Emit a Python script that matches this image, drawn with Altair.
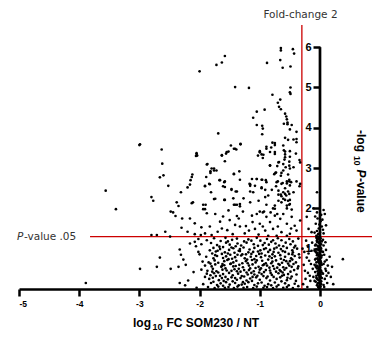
import altair as alt
import pandas as pd

# ---- values ----------------------------------------------------------------
FC_CUT = -0.301   # log10(1/2): fold-change 2
P_CUT = 1.301     # -log10(0.05)

x_ticks = [-5, -4, -3, -2, -1, 0, 1]
y_ticks = [1, 2, 3, 4, 5, 6]

upper = [
    (-2.00, 5.40), (-1.72, 5.56), (-1.63, 5.62), (-1.58, 5.78), (-1.41, 5.01), (-1.18, 4.99),
    (-0.88, 5.61), (-0.65, 5.98), (-0.65, 5.92), (-0.45, 5.95), (-0.43, 5.84), (-0.66, 5.68),
    (-0.62, 5.49), (-0.49, 5.52), (-0.49, 5.00), (-0.50, 4.88), (-0.49, 4.84), (-0.79, 4.82),
    (-0.66, 4.70), (-0.70, 4.62), (-0.68, 4.52), (-0.65, 4.46), (-0.92, 4.45), (-1.05, 4.40),
    (-0.58, 4.35), (-0.56, 4.28), (-0.55, 4.21), (-1.11, 4.25), (-1.05, 4.07), (-0.95, 3.98),
    (-0.54, 4.09), (-0.47, 4.07), (-0.50, 3.96), (-0.96, 4.05), (-0.96, 3.84), (-0.60, 4.10),
    (-0.54, 4.13), (-0.39, 3.90), (-1.69, 3.86), (-1.48, 3.56), (-1.32, 3.60), (-1.41, 3.48),
    (-1.55, 3.40), (-1.63, 3.32), (-1.58, 3.17), (-2.05, 3.35), (-2.06, 3.30), (-0.79, 3.63),
    (-0.75, 3.57), (-0.81, 3.51), (-0.58, 3.75), (-0.53, 3.70), (-0.44, 3.71), (-0.39, 3.64),
    (-0.89, 3.53), (-1.00, 3.42), (-0.97, 3.34), (-0.83, 3.40), (-0.75, 3.40), (-0.60, 3.44),
    (-0.50, 3.42), (-0.40, 3.36), (-0.58, 3.34), (-0.59, 3.21), (-0.50, 3.28), (-0.51, 3.16),
    (-0.34, 3.20), (-0.83, 3.07), (-0.68, 3.15), (-0.71, 3.05), (-0.64, 2.88), (-0.74, 2.88),
    (-0.57, 3.02), (-0.50, 2.99), (-0.53, 2.84), (-1.82, 2.92), (-1.80, 2.99), (-1.76, 2.94),
    (-1.88, 3.09), (-1.43, 2.85), (-1.34, 2.92), (-2.13, 2.78), (-1.91, 2.55), (-1.83, 2.60),
    (-1.66, 2.70), (-1.59, 2.65), (-1.61, 2.55), (-1.47, 2.46), (-1.38, 2.42), (-1.16, 2.60),
    (-1.05, 2.73), (-0.96, 2.71), (-0.90, 2.70), (-0.97, 2.50), (-0.80, 2.46), (-0.73, 2.55),
    (-0.70, 2.67), (-0.62, 2.63), (-0.55, 2.67), (-0.51, 2.71), (-0.50, 2.57), (-0.58, 2.50),
    (-0.69, 2.34), (-0.64, 2.30), (-0.58, 2.36), (-0.53, 2.42), (-0.39, 2.67), (-0.34, 2.55),
    (-0.58, 2.21), (-0.50, 2.21), (-0.51, 2.09), (-0.55, 2.00), (-1.74, 2.24), (-1.94, 2.09),
    (-1.91, 1.98), (-1.59, 2.21), (-1.44, 2.25), (-1.41, 2.09), (-1.33, 2.05), (-1.16, 2.15),
    (-1.02, 2.19), (-0.91, 2.28), (-0.89, 2.09), (-1.00, 1.92), (-0.93, 1.92), (-0.78, 2.00),
    (-0.71, 1.86), (-2.13, 2.13), (-0.75, 3.62), (-0.89, 3.48), (-1.00, 3.39), (-1.03, 3.31),
    (-0.94, 3.33), (-0.95, 3.25), (-0.75, 3.35), (-0.39, 3.72), (-0.61, 3.56), (-0.58, 3.41),
    (-0.58, 3.27), (-0.33, 3.14), (-0.69, 3.14), (-0.61, 3.10), (-0.83, 3.06), (-0.51, 3.06),
    (-0.44, 3.02), (-0.76, 2.85), (-0.73, 2.89), (-0.61, 2.94), (-0.65, 2.81), (-1.13, 2.73),
    (-1.05, 2.73), (-0.97, 2.71), (-0.89, 2.65), (-1.08, 2.56), (-0.97, 2.52), (-0.91, 2.46),
    (-0.86, 2.32), (-0.72, 2.65), (-0.64, 2.61), (-0.55, 2.62), (-0.51, 2.67), (-0.48, 2.65),
    (-0.69, 2.44), (-0.61, 2.40), (-0.65, 2.34), (-0.56, 2.32), (-0.51, 2.36), (-0.44, 2.40),
    (-0.33, 2.61), (-0.61, 2.24), (-0.69, 2.19), (-0.53, 2.19), (-0.50, 2.11), (-0.55, 2.07),
    (-0.64, 2.15), (-0.75, 2.07), (-0.75, 1.99), (-0.47, 1.97), (-1.16, 2.56), (-1.11, 2.40),
]

left = [
    (-3.00, 3.57), (-2.99, 3.59), (-2.63, 3.46), (-2.62, 3.11), (-2.66, 2.77), (-2.60, 2.82),
    (-2.52, 2.56), (-2.80, 2.28), (-2.77, 2.19), (-2.38, 2.15), (-2.35, 2.06), (-2.31, 2.40),
    (-2.20, 2.52), (-2.16, 2.59), (-2.15, 2.70), (-2.12, 2.84), (-2.11, 2.15), (-1.94, 1.98),
    (-1.90, 2.09), (-1.91, 2.56), (-1.84, 2.61), (-1.81, 2.40), (-1.89, 2.78), (-1.82, 2.88),
    (-1.76, 2.99), (-1.72, 2.94), (-1.87, 3.10), (-2.05, 3.37), (-2.04, 3.31), (-1.63, 3.31),
    (-1.56, 3.36), (-1.52, 3.41), (-1.43, 3.48), (-1.39, 3.46), (-1.32, 3.59), (-1.67, 2.70),
    (-1.58, 2.67), (-1.58, 2.53), (-1.47, 2.48), (-1.40, 2.42), (-1.43, 2.86), (-1.33, 2.71),
    (-1.17, 2.61), (-1.16, 2.42), (-1.76, 2.23), (-1.58, 2.21), (-1.43, 2.09), (-1.38, 2.09),
    (-1.33, 2.11), (-1.27, 2.25), (-3.56, 2.44), (-3.39, 1.98), (-3.89, 0.15), (-2.99, 0.50),
    (-2.66, 0.78), (-2.71, 0.55), (-2.48, 0.50), (-2.35, 0.55), (-2.27, 0.73), (-2.23, 0.60),
]

mid = [
    (-2.48, 1.92), (-2.44, 1.90), (-2.40, 1.81), (-2.29, 1.75), (-2.16, 1.75), (-2.08, 1.63),
    (-1.97, 1.53), (-1.83, 1.55), (-1.88, 1.88), (-1.74, 1.86), (-1.61, 1.80), (-1.66, 1.67),
    (-1.50, 1.71), (-1.38, 1.81), (-1.35, 1.75), (-1.41, 1.59), (-1.33, 1.55), (-1.23, 1.56),
    (-1.54, 1.46), (-1.63, 1.50), (-2.80, 1.34), (-2.71, 1.34), (-2.57, 1.42), (-2.49, 1.30),
    (-2.08, 1.36), (-1.98, 1.34), (-1.91, 1.38), (-1.80, 1.34), (-1.13, 1.82), (-1.05, 1.86),
    (-0.95, 1.90), (-0.89, 1.79), (-0.83, 1.66), (-0.75, 1.82), (-0.66, 1.74), (-0.61, 1.86),
    (-0.55, 1.62), (-0.47, 1.79), (-0.42, 1.57), (-0.39, 1.45), (-1.00, 1.62), (-1.08, 1.49),
    (-0.91, 1.45), (-0.78, 1.49), (-0.64, 1.41), (-0.50, 1.37), (-0.72, 1.32), (-0.86, 1.32),
    (-1.02, 1.35), (-0.33, 1.70), (-0.55, 1.32), (-0.22, 1.79), (-0.19, 1.49), (-0.14, 1.41),
    (-1.25, 1.38), (-1.12, 1.66), (-1.45, 1.36), (-1.70, 1.42), (-1.18, 1.45), (-0.95, 1.55),
    (-0.70, 1.55), (-0.48, 1.50), (-1.28, 1.92), (-1.52, 1.95), (-0.82, 1.90), (-2.20, 1.42),
    (-2.30, 1.52),
]

cloud = [
    (-2.02, 1.24), (-1.88, 1.21), (-1.76, 1.26), (-1.65, 1.19), (-1.57, 1.27), (-1.46, 1.22),
    (-1.38, 1.25), (-1.26, 1.18), (-1.19, 1.23), (-1.05, 1.27), (-0.99, 1.20), (-0.88, 1.24),
    (-0.81, 1.17), (-0.70, 1.26), (-0.64, 1.21), (-0.51, 1.24), (-0.45, 1.18), (-0.36, 1.25),
    (-2.16, 1.13), (-2.08, 1.17), (-2.06, 1.06), (-1.97, 1.11), (-1.81, 1.14), (-1.71, 1.09),
    (-1.56, 1.15), (-1.50, 1.10), (-1.37, 1.13), (-1.31, 1.08), (-1.22, 1.15), (-1.10, 1.11),
    (-1.03, 1.07), (-0.92, 1.14), (-0.85, 1.10), (-0.74, 1.13), (-0.68, 1.08), (-0.57, 1.15),
    (-0.49, 1.11), (-0.41, 1.07), (-2.33, 0.98), (-1.83, 0.96), (-1.77, 1.02), (-1.66, 0.99),
    (-1.61, 1.04), (-1.51, 0.97), (-1.44, 1.01), (-1.35, 0.95), (-1.27, 1.03), (-1.17, 0.98),
    (-1.09, 1.02), (-0.99, 0.96), (-0.90, 1.01), (-0.83, 0.97), (-0.72, 1.03), (-0.65, 0.99),
    (-0.55, 1.02), (-0.46, 0.96), (-0.38, 1.00), (-2.31, 0.85), (-2.02, 0.92), (-2.00, 0.86),
    (-1.79, 0.88), (-1.73, 0.93), (-1.63, 0.87), (-1.58, 0.91), (-1.49, 0.85), (-1.42, 0.90),
    (-1.33, 0.94), (-1.29, 0.86), (-1.19, 0.91), (-1.14, 0.87), (-1.03, 0.93), (-0.97, 0.88),
    (-0.86, 0.92), (-0.79, 0.86), (-0.69, 0.90), (-0.62, 0.94), (-0.52, 0.87), (-0.45, 0.91),
    (-0.35, 0.86), (-1.89, 0.80), (-1.77, 0.76), (-1.71, 0.82), (-1.61, 0.77), (-1.56, 0.81),
    (-1.46, 0.75), (-1.41, 0.79), (-1.31, 0.83), (-1.25, 0.76), (-1.15, 0.80), (-1.09, 0.74),
    (-0.98, 0.79), (-0.91, 0.83), (-0.80, 0.77), (-0.75, 0.81), (-0.65, 0.75), (-0.58, 0.80),
    (-0.48, 0.76), (-0.42, 0.82), (-0.34, 0.78), (-1.95, 0.68), (-1.85, 0.66), (-1.75, 0.71),
    (-1.69, 0.65), (-1.59, 0.69), (-1.54, 0.72), (-1.44, 0.66), (-1.39, 0.70), (-1.29, 0.64),
    (-1.23, 0.69), (-1.13, 0.72), (-1.07, 0.66), (-0.96, 0.70), (-0.90, 0.64), (-0.79, 0.68),
    (-0.73, 0.71), (-0.63, 0.65), (-0.56, 0.69), (-0.46, 0.73), (-0.40, 0.66), (-0.69, 0.62),
    (-0.86, 0.73), (-1.91, 0.58), (-1.80, 0.56), (-1.74, 0.61), (-1.64, 0.55), (-1.59, 0.59),
    (-1.49, 0.62), (-1.44, 0.56), (-1.34, 0.60), (-1.28, 0.54), (-1.18, 0.58), (-1.12, 0.61),
    (-1.02, 0.55), (-0.95, 0.59), (-0.84, 0.53), (-0.78, 0.57), (-0.67, 0.60), (-0.61, 0.54),
    (-0.51, 0.58), (-0.44, 0.62), (-0.36, 0.56), (-2.10, 0.42), (-1.97, 0.48), (-1.87, 0.45),
    (-1.78, 0.50), (-1.72, 0.44), (-1.62, 0.48), (-1.57, 0.51), (-1.47, 0.45), (-1.42, 0.49),
    (-1.32, 0.43), (-1.26, 0.47), (-1.16, 0.51), (-1.10, 0.44), (-1.00, 0.48), (-0.93, 0.42),
    (-0.83, 0.46), (-0.76, 0.50), (-0.65, 0.44), (-0.59, 0.48), (-0.49, 0.43), (-0.43, 0.47),
    (-0.37, 0.51), (-1.88, 0.38), (-1.82, 0.34), (-1.76, 0.39), (-1.66, 0.33), (-1.61, 0.37),
    (-1.51, 0.40), (-1.45, 0.34), (-1.36, 0.38), (-1.30, 0.32), (-1.20, 0.36), (-1.14, 0.40),
    (-1.04, 0.33), (-0.97, 0.37), (-0.87, 0.31), (-0.80, 0.35), (-0.69, 0.39), (-0.63, 0.33),
    (-0.53, 0.37), (-0.47, 0.31), (-0.39, 0.36), (-1.91, 0.30), (-1.84, 0.25), (-1.78, 0.28),
    (-1.68, 0.22), (-1.63, 0.27), (-1.53, 0.24), (-1.47, 0.29), (-1.38, 0.23), (-1.32, 0.27),
    (-1.22, 0.21), (-1.16, 0.26), (-1.06, 0.29), (-1.00, 0.23), (-0.89, 0.27), (-0.83, 0.21),
    (-0.72, 0.25), (-0.66, 0.29), (-0.55, 0.22), (-0.49, 0.26), (-0.40, 0.20), (-2.19, 0.21),
    (-2.33, 0.15), (-2.24, 0.09), (-1.94, 0.12), (-1.81, 0.15), (-1.71, 0.10), (-1.65, 0.14),
    (-1.56, 0.17), (-1.50, 0.11), (-1.41, 0.15), (-1.35, 0.09), (-1.25, 0.13), (-1.19, 0.17),
    (-1.09, 0.10), (-1.03, 0.14), (-0.92, 0.08), (-0.86, 0.12), (-0.75, 0.16), (-0.69, 0.10),
    (-0.58, 0.14), (-0.52, 0.09), (-0.42, 0.13), (-0.36, 0.07), (-2.05, 0.03), (-1.86, 0.05),
    (-1.75, 0.02), (-1.69, 0.06), (-1.58, 0.03), (-1.52, 0.05), (-1.43, 0.02), (-1.37, 0.06),
    (-1.27, 0.03), (-1.21, 0.05), (-1.11, 0.02), (-1.05, 0.06), (-0.94, 0.03), (-0.88, 0.05),
    (-0.78, 0.02), (-0.72, 0.06), (-0.61, 0.03), (-0.55, 0.05), (-0.45, 0.02),
    (-1.70, 0.95), (-1.48, 0.63), (-1.23, 0.86), (-1.01, 0.41), (-0.77, 0.92), (-0.54, 0.28),
    (-1.60, 0.20), (-1.35, 0.50), (-1.12, 0.30), (-0.93, 0.61), (-0.67, 0.47), (-0.46, 0.86),
    (-1.79, 0.43), (-1.53, 0.88), (-1.28, 0.17), (-1.06, 0.82), (-0.82, 0.40), (-0.60, 0.72),
]

core = [
    (-1.67, 1.05), (-1.53, 1.18), (-1.40, 1.06), (-1.14, 1.20), (-0.95, 1.09), (-0.78, 1.21),
    (-0.61, 1.06), (-0.43, 1.03), (-1.74, 0.84), (-1.52, 0.74), (-1.37, 0.85), (-1.21, 0.73),
    (-1.01, 0.87), (-0.84, 0.81), (-0.66, 0.84), (-0.50, 0.69), (-1.82, 0.63), (-1.62, 0.62),
    (-1.40, 0.57), (-1.20, 0.64), (-1.05, 0.71), (-0.88, 0.58), (-0.71, 0.53), (-0.53, 0.63),
    (-1.69, 0.41), (-1.55, 0.46), (-1.38, 0.44), (-1.22, 0.41), (-1.07, 0.52), (-0.90, 0.47),
    (-0.73, 0.43), (-0.56, 0.52), (-1.73, 0.32), (-1.57, 0.30), (-1.41, 0.27), (-1.26, 0.31),
    (-1.09, 0.36), (-0.94, 0.32), (-0.77, 0.30), (-0.60, 0.35), (-1.77, 0.18), (-1.61, 0.08),
    (-1.45, 0.19), (-1.30, 0.11), (-1.13, 0.20), (-0.97, 0.16), (-0.81, 0.09), (-0.64, 0.19),
    (-1.47, 1.03), (-1.33, 0.99), (-1.11, 0.92), (-0.93, 0.99), (-0.76, 1.00), (-0.58, 0.92),
    (-1.63, 0.57), (-1.18, 0.47), (-0.98, 0.51), (-0.81, 0.64), (-0.62, 0.41), (-0.47, 0.55),
]

gap = [
    (-0.28, 0.12), (-0.25, 0.45), (-0.22, 0.78), (-0.20, 1.05), (-0.26, 0.92), (-0.17, 0.33),
    (-0.15, 0.62), (-0.24, 0.25), (-0.19, 0.88), (-0.13, 1.15), (-0.27, 0.60), (-0.21, 0.05),
    (-0.16, 0.20), (-0.12, 0.50), (-0.23, 1.20), (-0.18, 0.70), (-0.14, 0.95), (-0.29, 1.00),
    (-0.11, 0.30), (-0.20, 0.40),
]

column = [
    (-0.02, 0.03), (0.01, 0.06), (-0.05, 0.09), (0.02, 0.12), (-0.03, 0.15), (-0.07, 0.18),
    (0.00, 0.21), (-0.04, 0.24), (0.03, 0.27), (-0.01, 0.30), (-0.06, 0.33), (0.01, 0.36),
    (-0.03, 0.39), (-0.08, 0.42), (0.02, 0.45), (-0.02, 0.48), (-0.05, 0.51), (0.00, 0.54),
    (-0.04, 0.57), (0.03, 0.60), (-0.01, 0.63), (-0.06, 0.66), (0.01, 0.69), (-0.03, 0.72),
    (-0.07, 0.75), (0.02, 0.78), (-0.02, 0.81), (-0.05, 0.84), (0.00, 0.87), (-0.04, 0.90),
    (0.03, 0.93), (-0.01, 0.96), (-0.06, 0.99), (0.01, 1.02), (-0.03, 1.05), (-0.08, 1.08),
    (0.02, 1.11), (-0.02, 1.14), (-0.05, 1.17), (0.00, 1.20), (-0.04, 1.23), (0.01, 1.26),
    (-0.01, 1.29), (-0.06, 1.32), (-0.03, 1.36), (0.00, 1.40), (-0.05, 1.44),
    (-0.01, 0.08), (-0.04, 0.13), (0.00, 0.17), (-0.02, 0.22), (-0.05, 0.26), (0.01, 0.31),
    (-0.03, 0.35), (-0.01, 0.40), (-0.04, 0.44), (0.00, 0.49), (-0.02, 0.53), (-0.06, 0.58),
    (0.01, 0.62), (-0.03, 0.67), (-0.01, 0.71), (-0.04, 0.76), (0.00, 0.80), (-0.02, 0.85),
    (-0.05, 0.89), (0.01, 0.94), (-0.03, 0.98), (-0.01, 1.03), (-0.04, 1.07), (0.00, 1.12),
    (-0.02, 1.16), (-0.05, 1.21), (-0.02, 1.25), (-0.04, 1.30),
    (-0.03, 0.05), (0.02, 0.19), (-0.06, 0.28), (0.03, 0.41), (-0.07, 0.55), (0.02, 0.65),
    (-0.08, 0.73), (0.03, 0.83), (-0.07, 0.92), (0.02, 1.00), (-0.07, 1.10), (0.03, 1.18),
    (-0.06, 1.27), (-0.09, 0.60), (-0.09, 0.20), (-0.09, 0.95),
    (0.06, 0.10), (0.08, 0.25), (0.05, 0.38), (0.09, 0.50), (0.06, 0.62), (0.11, 0.72),
    (0.07, 0.85), (0.10, 0.97), (0.06, 1.08), (0.12, 0.15), (0.14, 0.40), (0.08, 0.68),
    (0.13, 0.58), (0.16, 0.80), (0.05, 0.92), (0.09, 1.16), (0.18, 0.30), (0.22, 0.12),
    (0.20, 0.55), (0.38, 0.74), (0.07, 0.05), (0.11, 0.33), (0.05, 1.22), (0.10, 0.45),
    (-0.05, 2.40), (-0.11, 2.00), (0.06, 1.96), (0.02, 1.84), (0.08, 1.86), (-0.04, 1.75),
    (0.01, 1.68), (-0.07, 1.62), (0.03, 1.55), (-0.02, 1.50), (0.05, 1.47), (-0.09, 1.40),
    (0.06, 1.38), (-0.01, 1.60), (0.10, 1.58), (-0.05, 1.90), (0.04, 1.72), (-0.08, 1.80),
]

# ---- chart ------------------------------------------------------------------
df = pd.DataFrame(upper + left + mid + cloud + core + gap + column, columns=["fc", "p"])

xs = alt.Scale(domain=[-5, 0.864], nice=False, zero=False)
ys = alt.Scale(domain=[0, 6.55], nice=False, zero=False)
RED = "#cc0000"
FONT = "Liberation Sans"

points = alt.Chart(df).mark_circle(size=7, color="black", opacity=1).encode(
    x=alt.X("fc:Q", scale=xs, axis=alt.Axis(
        values=x_ticks, labelExpr="'' + datum.value", title=None, grid=False,
        domainColor="black", domainWidth=2.5, tickColor="black", tickWidth=2.5, tickSize=7,
        labelFont=FONT, labelFontWeight="bold", labelFontSize=8.5, labelColor="black",
        labelPadding=3)),
    y=alt.Y("p:Q", scale=ys, axis=alt.Axis(
        orient="left", offset=-301, values=y_ticks, labelExpr="'' + datum.value",
        title=None, grid=False, domain=False, tickColor="black", tickWidth=2.5, tickSize=7,
        labelFont=FONT, labelFontWeight="bold", labelFontSize=11, labelColor="black",
        labelPadding=2)),
)

y_domain = alt.Chart(pd.DataFrame({"x": [0], "y0": [0], "y1": [y_ticks[-1]]})).mark_rule(
    color="black", strokeWidth=2.7).encode(
    x=alt.X("x:Q", scale=xs), y=alt.Y("y0:Q", scale=ys), y2="y1:Q")

vline = alt.Chart(pd.DataFrame({"fc": [FC_CUT]})).mark_rule(color=RED, strokeWidth=1.3).encode(
    x=alt.X("fc:Q", scale=xs))

hline = alt.Chart(pd.DataFrame({"p": [P_CUT], "x0": [-3.82]})).mark_rule(
    color=RED, strokeWidth=1.3).encode(
    y=alt.Y("p:Q", scale=ys), x=alt.X("x0:Q", scale=xs), x2=alt.value(353))

lab = pd.DataFrame({"p": [P_CUT]})
p_lab1 = alt.Chart(lab).mark_text(text="P", font="DejaVu Sans", fontSize=10.5, fontStyle="italic",
                                  color="#333333", align="left", baseline="middle").encode(
    x=alt.value(-2), y=alt.Y("p:Q", scale=ys))
p_lab2 = alt.Chart(lab).mark_text(text="-value .05", font="DejaVu Sans", fontSize=10.5,
                                  color="#333333", align="left", baseline="middle").encode(
    x=alt.value(5), y=alt.Y("p:Q", scale=ys))

fc_lab = alt.Chart(pd.DataFrame({"t": ["Fold-change 2"]})).mark_text(
    font="DejaVu Sans", fontSize=10.5, color="#333333", align="center", baseline="middle").encode(
    text="t:N", x=alt.value(281.5), y=alt.value(-10.5))

def txt(t, x, y, size=12, style="normal", angle=0, baseline="alphabetic"):
    kw = dict(text=t, font=FONT, fontSize=size, fontWeight="bold", fontStyle=style,
              color="black", align="left", baseline=baseline)
    if angle:
        kw["angle"] = angle
    return alt.Chart(pd.DataFrame({"a": [0]})).mark_text(**kw).encode(
        x=alt.value(x), y=alt.value(y))

x_title = [
    txt("log", 114, 301.5),
    txt("10", 133.5, 304.5, size=9),
    txt("FC SOM230 / NT", 147.5, 301.5),
]
y_title = [
    txt("-log", 337.5, 105, angle=90),
    txt("10", 334.5, 131, size=8.5, angle=90),
    txt("P", 337.5, 144.5, style="italic", angle=90),
    txt("-value", 337.5, 153, angle=90),
]

chart = alt.layer(
    vline, hline, points, y_domain, p_lab1, p_lab2, fc_lab, *x_title, *y_title
).properties(
    width=353, height=264,
    autosize=alt.AutoSizeParams(type="none"),
    padding={"left": 11, "top": 17, "right": 0, "bottom": 41},
).configure_view(stroke=None)

chart.save("out.html", embed_options={"renderer": "svg", "actions": False})
